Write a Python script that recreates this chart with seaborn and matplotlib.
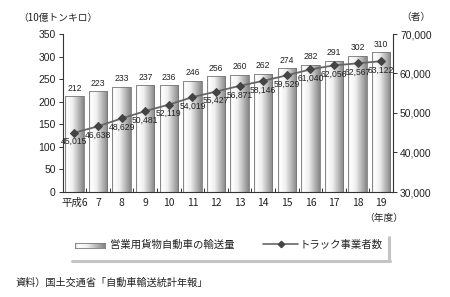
import numpy as np
import pandas as pd
import matplotlib
matplotlib.use("Agg")
import matplotlib.pyplot as plt
from matplotlib.lines import Line2D
import seaborn as sns

years = ["平成6", "7", "8", "9", "10", "11", "12", "13", "14", "15", "16", "17", "18", "19"]
ton_km = [212, 223, 233, 237, 236, 246, 256, 260, 262, 274, 282, 291, 302, 310]
operators = [45015, 46638, 48629, 50481, 52119, 54019, 55427, 56871, 58146, 59529, 61040, 62056, 62567, 63122]
left_ticks = [0, 50, 100, 150, 200, 250, 300, 350]
right_ticks = [30000, 40000, 50000, 60000, 70000]

sns.set_theme(style="white")
FONTS = ["Noto Sans CJK JP", "Liberation Sans", "DejaVu Sans"]
NUM = ["Liberation Sans", "DejaVu Sans"]
NARROW = ["Liberation Sans Narrow", "Liberation Sans", "DejaVu Sans"]
plt.rcParams["font.family"] = FONTS

df = pd.DataFrame({"year": years, "ton_km": ton_km, "operators": operators})

fig = plt.figure(figsize=(4.5, 2.97), dpi=100)
ax = fig.add_axes([62.7/450, 1-192/297, (393-62.7)/450, (192-34)/297])

sns.barplot(data=df, x="year", y="ton_km", ax=ax, color="#dddddd", width=0.78,
            edgecolor="#777777", linewidth=0.6, saturation=1, zorder=2)

grad = np.linspace(0, 1, 256).reshape(1, -1)
cmap = matplotlib.colors.LinearSegmentedColormap.from_list(
    "g", [(0, "#d0d0d0"), (0.1, "#ffffff"), (0.4, "#f0f0f0"), (0.8, "#a8a8a8"), (1, "#858585")])
for p in list(ax.patches):
    x0, y0 = p.get_x(), p.get_y()
    w, h = p.get_width(), p.get_height()
    im = ax.imshow(grad, cmap=cmap, aspect="auto", extent=[x0, x0 + w, y0, y0 + h],
                   zorder=2.5, interpolation="bilinear")
    im.set_clip_path(p)
    p.set_facecolor("none")
    p.set_zorder(3)

ax.set_xlim(-0.5, len(years) - 0.5)
ax.set_ylim(0, 350)
ax.set_yticks(left_ticks)
ax.set_yticklabels([str(v) for v in left_ticks], family=NUM)
ax.set_xlabel("")
ax.set_ylabel("")

for i, v in enumerate(ton_km):
    ax.annotate(str(v), (i, v), xytext=(0, 2.5), textcoords="offset points",
                ha="center", va="bottom", fontsize=6.2, color="#222222", family=NUM)

ax2 = ax.twinx()
ax2.set_position(ax.get_position())
sns.lineplot(x=np.arange(len(years)), y=operators, ax=ax2, color="#666666", linewidth=1.3,
             marker="D", markersize=3.6, markerfacecolor="#444444", markeredgecolor="#444444", zorder=5)
ax2.set_ylim(30000, 70000)
ax2.set_yticks(right_ticks)
ax2.set_yticklabels([f"{v:,}" for v in right_ticks], family=NUM)
ax2.set_xlim(-0.5, len(years) - 0.5)
for i, v in enumerate(operators):
    ax2.annotate(f"{v:,}", (i, v), xytext=(0, -6.5), textcoords="offset points",
                 ha="center", va="center", fontsize=6.2, color="#222222", family=NARROW)

for a in (ax, ax2):
    a.spines["top"].set_visible(False)
    for s in ["left", "right", "bottom"]:
        a.spines[s].set_color("#333333")
        a.spines[s].set_linewidth(0.8)
ax.spines["right"].set_visible(False)
ax2.spines["left"].set_visible(False)
ax2.spines["bottom"].set_visible(False)

ax.tick_params(axis="y", direction="out", length=3, width=0.7, color="#333333",
               labelsize=7.5, pad=2, left=True)
ax2.tick_params(axis="y", direction="out", length=3, width=0.7, color="#333333",
                labelsize=7.5, pad=2, right=True)
ax.tick_params(axis="x", which="major", length=0, labelsize=7.5, pad=4)
ax.set_xticks(np.arange(len(years)) + 0.5, minor=True)
ax.tick_params(axis="x", which="minor", direction="in", length=3, width=0.7, color="#333333", bottom=True)
for lbl in ax.get_xticklabels() + ax.get_yticklabels() + ax2.get_yticklabels():
    lbl.set_color("#222222")

ax.grid(False)
ax2.grid(False)

fig.text(18/450, 1-18/297, "（10億トンキロ）", fontsize=7, ha="left", va="center", color="#222222")
fig.text(416/450, 1-17/297, "（者）", fontsize=7, ha="center", va="center", color="#222222")
fig.text(384/450, 1-218/297, "（年度）", fontsize=7, ha="center", va="center", color="#222222")

sw = fig.add_axes([75/450, 1-248/297, 30/450, 5/297])
sw.imshow(grad, cmap=cmap, aspect="auto", extent=[0, 1, 0, 1], interpolation="bilinear")
sw.set_xticks([]); sw.set_yticks([])
for s in sw.spines.values():
    s.set_color("#777777"); s.set_linewidth(0.6)
fig.text(110/450, 1-245/297, "営業用貨物自動車の輸送量", fontsize=7.5, ha="left", va="center", color="#222222")
fig.add_artist(Line2D([263/450, 298/450], [1-244/297, 1-244/297], color="#666666", lw=1.2))
fig.add_artist(Line2D([280.5/450], [1-244/297], marker="D", markersize=3.2, color="#444444"))
fig.text(300/450, 1-245/297, "トラック事業者数", fontsize=7.5, ha="left", va="center", color="#222222")
fig.add_artist(Line2D([72/450, 390/450], [1-261/297, 1-261/297], color="#c4c4c4", lw=2.2))
fig.add_artist(Line2D([388.5/450, 388.5/450], [1-237/297, 1-261/297], color="#c4c4c4", lw=2.2))

fig.text(15/450, 1-283/297, "資料）国土交通省「自動車輸送統計年報」", fontsize=7.3, ha="left", va="center", color="#222222")

fig.savefig("out.png", dpi=100)
